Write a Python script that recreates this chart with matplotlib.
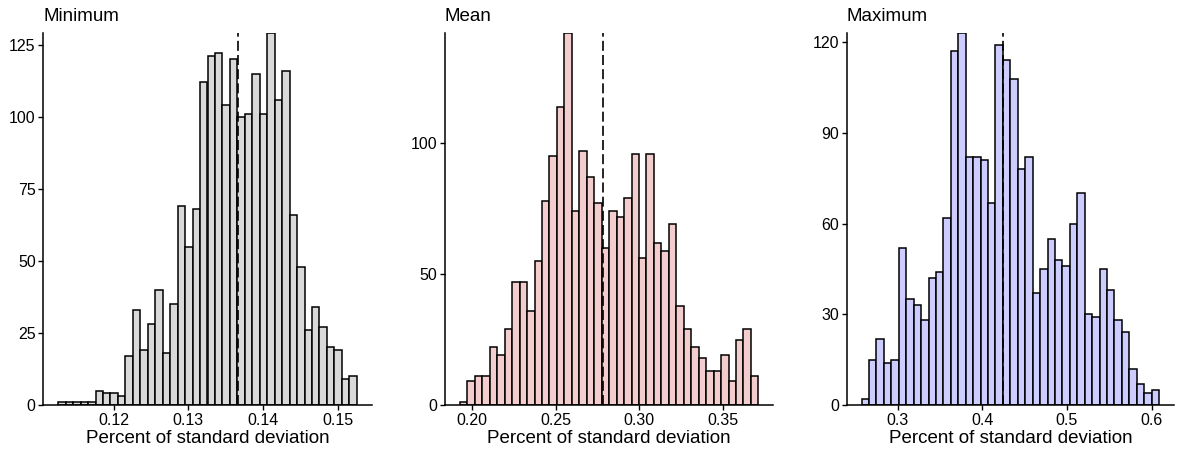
import matplotlib
matplotlib.use("Agg")
import matplotlib.pyplot as plt
import numpy as np

plt.rcParams['font.family'] = ['Liberation Sans', 'DejaVu Sans']

# ---- data (counts per bin) ----
titles = ["Minimum", "Mean", "Maximum"]

min_counts = [1, 1, 1, 1, 1, 5, 4, 4, 3, 17, 33, 19, 28, 40, 18, 35, 69, 55, 68, 112,
              121, 122, 104, 120, 100, 101, 115, 101, 129, 106, 116, 66, 48, 26, 34, 27,
              20, 19, 9, 10]
min_bin_start = 0.1126
min_bin_width = 0.000998
min_ref = 0.1366
min_xticks = [0.12, 0.13, 0.14, 0.15]
min_xticklabels = ["0.12", "0.13", "0.14", "0.15"]
min_yticks = [0, 25, 50, 75, 100, 125]

mean_counts = [1, 9, 11, 11, 22, 19, 29, 47, 47, 36, 55, 78, 95, 114, 142, 74, 97, 87,
               77, 60, 74, 72, 79, 96, 56, 96, 62, 59, 69, 38, 29, 22, 18, 13, 13, 19,
               9, 25, 29, 11]
mean_bin_start = 0.19261
mean_bin_width = 0.004472
mean_ref = 0.2784
mean_xticks = [0.20, 0.25, 0.30, 0.35]
mean_xticklabels = ["0.20", "0.25", "0.30", "0.35"]
mean_yticks = [0, 50, 100]

max_counts = [2, 15, 22, 14, 15, 52, 35, 33, 28, 42, 44, 62, 117, 123, 82, 82, 81, 67,
              119, 114, 108, 78, 82, 37, 45, 55, 48, 46, 60, 70, 30, 29, 45, 38, 28, 24,
              12, 7, 4, 5]
max_bin_start = 0.25744
max_bin_width = 0.008784
max_ref = 0.4243
max_xticks = [0.3, 0.4, 0.5, 0.6]
max_xticklabels = ["0.3", "0.4", "0.5", "0.6"]
max_yticks = [0, 30, 60, 90, 120]

fills = ["#D9D9D9", "#F3CDCD", "#CCCCFF"]
xlabel = "Percent of standard deviation"

panels = [
    (min_counts, min_bin_start, min_bin_width, min_ref, min_xticks, min_xticklabels, min_yticks),
    (mean_counts, mean_bin_start, mean_bin_width, mean_ref, mean_xticks, mean_xticklabels, mean_yticks),
    (max_counts, max_bin_start, max_bin_width, max_ref, max_xticks, max_xticklabels, max_yticks),
]

W, H = 1182, 453
fig = plt.figure(figsize=(W / 100, H / 100), dpi=100)
lefts_px = [43.3, 445.0, 846.7]
widths_px = [328.4, 328.3, 327.3]
top_px, bottom_px = 33.3, 405.0

for i, (counts, start, bw, ref, xt, xtl, yt) in enumerate(panels):
    ax = fig.add_axes([lefts_px[i] / W, (H - bottom_px) / H,
                       widths_px[i] / W, (bottom_px - top_px) / H])
    counts = np.array(counts)
    n = len(counts)
    edges = start + bw * np.arange(n + 1)
    ax.bar(edges[:-1], counts, width=bw, align='edge', color=fills[i],
           edgecolor='black', linewidth=1.1, zorder=2)
    ax.axvline(ref, color='black', linestyle=(0, (6, 2.5)), linewidth=1.2, zorder=3)
    lo, hi = edges[0], edges[-1]
    pad = 0.05 * (hi - lo)
    ax.set_xlim(lo - pad, hi + pad)
    ax.set_ylim(0, counts.max())
    ax.set_xticks(xt)
    ax.set_xticklabels(xtl)
    ax.set_yticks(yt)
    for s in ['top', 'right']:
        ax.spines[s].set_visible(False)
    for s in ['left', 'bottom']:
        ax.spines[s].set_linewidth(1.1)
        ax.spines[s].set_color('black')
    ax.tick_params(axis='both', direction='out', length=3.5, width=1.0,
                   labelsize=11.5, colors='black', pad=2)
    ax.set_xlabel(xlabel, fontsize=13.5, labelpad=2)
    ax.set_title(titles[i], loc='left', fontsize=13.5, pad=9)

fig.savefig("out.png", dpi=100)
